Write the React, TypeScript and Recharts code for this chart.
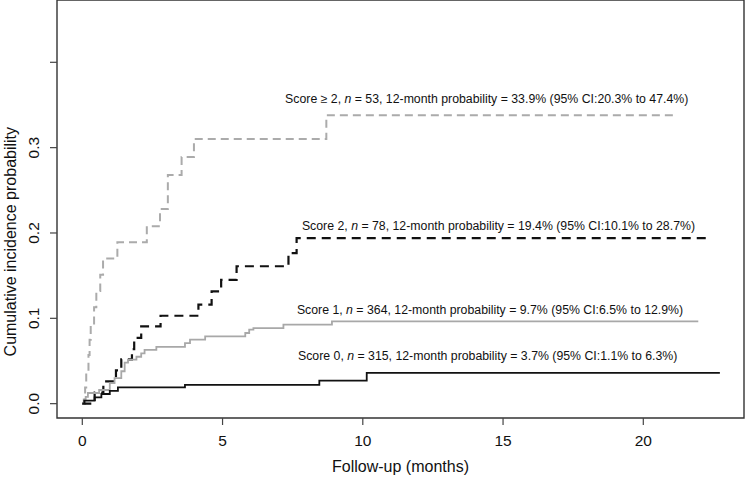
import { LineChart, Line, XAxis, YAxis, ReferenceArea, ReferenceDot } from 'recharts';

// cumulative incidence step curves (months, probability)
const monthsHigh = [0, 0.1, 0.14, 0.22, 0.26, 0.3, 0.42, 0.5, 0.64, 0.74, 1.25, 2.3, 2.77, 3.05, 3.54, 3.98, 8.7, 21.2];
const probHigh = [0, 0.019, 0.038, 0.057, 0.075, 0.094, 0.113, 0.132, 0.151, 0.17, 0.189, 0.208, 0.228, 0.268, 0.289, 0.31, 0.338, 0.338];

const months2 = [0, 0.44, 0.75, 1.2, 1.39, 1.77, 1.85, 2.1, 2.79, 4.14, 4.61, 4.95, 5.5, 7.35, 7.64, 22.3];
const prob2 = [0, 0.013, 0.026, 0.039, 0.052, 0.064, 0.077, 0.0905, 0.103, 0.116, 0.1315, 0.145, 0.161, 0.1765, 0.194, 0.194];

const months1 = [0, 0.05, 0.12, 0.2, 0.6, 0.98, 1.15, 1.39, 1.51, 1.63, 1.93, 2.1, 2.22, 2.64, 3.66, 3.84, 4.38, 5.81, 5.95, 6.1, 7.17, 8.9, 21.96];
const prob1 = [0, 0.005, 0.008, 0.0125, 0.016, 0.024, 0.03, 0.038, 0.048, 0.0515, 0.055, 0.059, 0.063, 0.0665, 0.071, 0.075, 0.0788, 0.0828, 0.0867, 0.0886, 0.0925, 0.0964, 0.0964];

const months0 = [0, 0.07, 0.44, 0.68, 0.98, 1.27, 3.66, 8.45, 10.14, 22.73];
const prob0 = [0, 0.0035, 0.0074, 0.0113, 0.015, 0.019, 0.022, 0.027, 0.036, 0.036];

// annotation text pieces
const groupNames = ['Score \u2265 2', 'Score 2', 'Score 1', 'Score 0'];
const groupN = [53, 78, 364, 315];
const prob12 = ['33.9%', '19.4%', '9.7%', '3.7%'];
const ciLow = ['20.3%', '10.1%', '6.5%', '1.1%'];
const ciHigh = ['47.4%', '28.7%', '12.9%', '6.3%'];

const xTicks = [0, 5, 10, 15, 20];
const yTicks = [0, 0.1, 0.2, 0.3, 0.4];
const yTickLabels = ['0.0', '0.1', '0.2', '0.3', ''];

const xDomain = [-0.902, 23.59];
const yDomain = [-0.0168, 0.473];

// where each note starts (data coords)
const notePos = [
    { x: 7.23, y: 0.357 },
    { x: 7.83, y: 0.2084 },
    { x: 7.65, y: 0.11 },
    { x: 7.69, y: 0.0562 },
];

const font = '"Liberation Sans", Arial, Helvetica, sans-serif';

const toRows = (t: number[], p: number[]) => t.map((v, i) => ({ t: v, p: p[i] }));

const series = [
    { data: toRows(monthsHigh, probHigh), stroke: '#ababab', width: 2, dash: '8 5' },
    { data: toRows(months2, prob2), stroke: '#111', width: 2.2, dash: '9 6' },
    { data: toRows(months1, prob1), stroke: '#a8a8a8', width: 1.8, dash: undefined },
    { data: toRows(months0, prob0), stroke: '#111', width: 1.8, dash: undefined },
];

const XTick = (props: any) => {
    const { x, payload } = props;
    return (
        <text x={x} y={440} textAnchor="middle" dominantBaseline="central" fontSize={15.5} fill="#111" fontFamily={font}>
            {payload.value}
        </text>
    );
};

const YTick = (props: any) => {
    const { y, payload } = props;
    const label = yTickLabels[yTicks.indexOf(payload.value)] ?? '';
    return (
        <text x={34} y={y} transform={`rotate(-90, 34, ${y})`} textAnchor="middle" dominantBaseline="central" fontSize={15.5} fill="#111" fontFamily={font}>
            {label}
        </text>
    );
};

const XTitle = (props: any) => {
    const vb = props.viewBox;
    return (
        <text x={vb.x + vb.width / 2} y={466} textAnchor="middle" dominantBaseline="central" fontSize={16} fill="#111" fontFamily={font}>
            Follow-up (months)
        </text>
    );
};

const YTitle = () => (
    <text x={11} y={241.7} transform="rotate(-90, 11, 241.7)" textAnchor="middle" dominantBaseline="central" fontSize={16} fill="#111" fontFamily={font}>
        Cumulative incidence probability
    </text>
);

const noteLabel = (i: number) => (props: any) => {
    const vb = props.viewBox;
    return (
        <text x={vb.x} y={vb.y} textAnchor="start" dominantBaseline="central" fontSize={12.3} fill="#111" fontFamily={font}>
            <tspan>{groupNames[i]}, </tspan>
            <tspan fontStyle="italic">n</tspan>
            <tspan>{` = ${groupN[i]}, 12-month probability = ${prob12[i]} (95% CI:${ciLow[i]} to ${ciHigh[i]})`}</tspan>
        </text>
    );
};

const App = () => {
    return (
        <div style={{ position: 'absolute', left: 0, top: 0, width: 745, height: 482, background: '#fff' }}>
            <LineChart width={745} height={482} margin={{ top: 0, right: 1, bottom: 0, left: 0 }}>
                <XAxis
                    type="number"
                    dataKey="t"
                    domain={xDomain}
                    ticks={xTicks}
                    interval={0}
                    allowDataOverflow
                    height={64}
                    tickSize={7}
                    axisLine={false}
                    tickLine={{ stroke: '#444', strokeWidth: 1.2 }}
                    tick={XTick}
                    label={{ content: XTitle }}
                />
                <YAxis
                    type="number"
                    domain={yDomain}
                    ticks={yTicks}
                    interval={0}
                    allowDataOverflow
                    width={57}
                    tickSize={7}
                    axisLine={false}
                    tickLine={{ stroke: '#444', strokeWidth: 1.2 }}
                    tick={YTick}
                    label={{ content: YTitle }}
                />
                <ReferenceArea
                    x1={xDomain[0]}
                    x2={xDomain[1]}
                    y1={yDomain[0]}
                    y2={yDomain[1]}
                    fill="none"
                    stroke="#333"
                    strokeWidth={1.4}
                    ifOverflow="visible"
                />
                {series.map((s, i) => (
                    <Line
                        key={i}
                        data={s.data}
                        dataKey="p"
                        type="stepAfter"
                        stroke={s.stroke}
                        strokeWidth={s.width}
                        strokeDasharray={s.dash}
                        dot={false}
                        activeDot={false}
                        isAnimationActive={false}
                    />
                ))}
                {notePos.map((p, i) => (
                    <ReferenceDot
                        key={'n' + i}
                        x={p.x}
                        y={p.y}
                        r={0}
                        fill="none"
                        stroke="none"
                        ifOverflow="visible"
                        label={{ content: noteLabel(i) }}
                    />
                ))}
            </LineChart>
        </div>
    );
};

export default App;
